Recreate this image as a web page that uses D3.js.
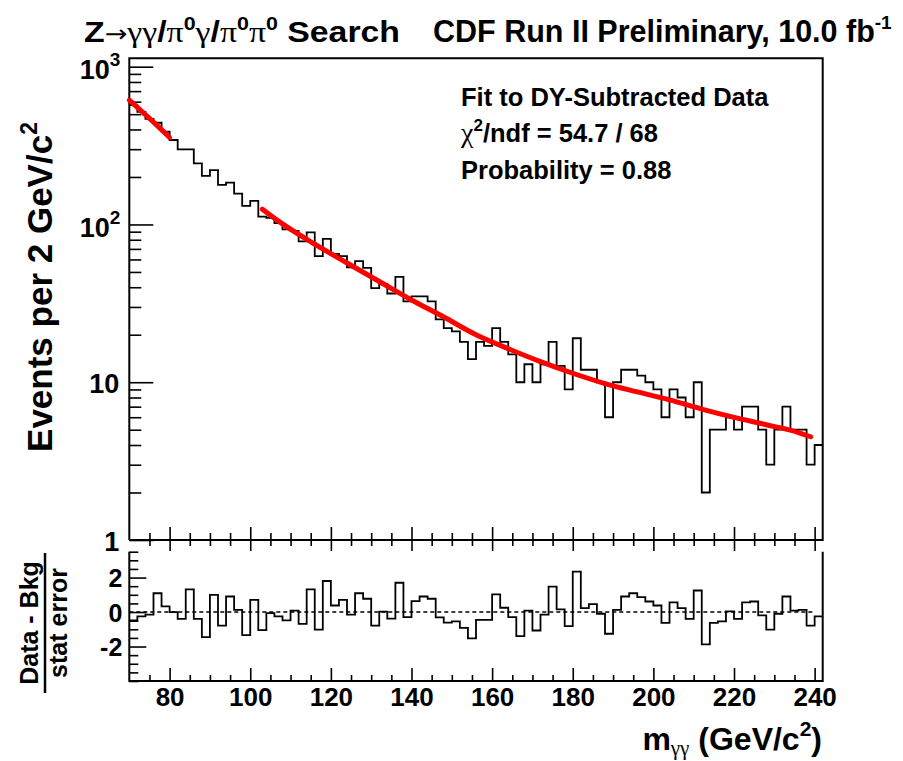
<!DOCTYPE html>
<html>
<head>
<meta charset="utf-8">
<script src="https://cdn.jsdelivr.net/npm/d3@7"></script>
<style>
  body { margin: 0; background: #fff; }
  svg text { font-family: "Liberation Sans", Arial, Helvetica, sans-serif; font-weight: bold; fill: #000; }
  .greek { font-family: "Liberation Serif", "Times New Roman", serif; font-weight: normal; }
  .arrow { font-family: "DejaVu Sans", sans-serif; font-weight: normal; }
</style>
</head>
<body>
<svg id="chart" width="903" height="761"></svg>
<script>
// Diphoton mass spectrum, 2 GeV bins from 70 to 242 GeV/c^2
const binLow = 70;
const binWidth = 2;
const events = [
  570, 517, 467, 441, 387, 343, 299, 299, 244, 203,
  221, 178, 184, 157, 131, 141, 112, 110, 102, 93,
  91, 78, 89, 63, 81, 65, 63, 53.5, 58.5, 53,
  39.5, 42, 36.5, 46.5, 32.5, 35, 35, 32.5, 25, 22,
  21, 18, 14, 18, 17, 22, 18, 15, 10, 13,
  10, 13, 18, 12.7, 9, 19, 12, 12, 10, 6,
  10, 12, 12, 11, 10, 9, 6, 9, 8, 6,
  10, 2, 5, 5, 6, 5, 7, 7, 5, 3,
  5, 7, 5, 5, 3, 4
];
// (data - background) / statistical error, same bins
const pulls = [
  -0.48, -0.25, -0.15, 1.09, 0.33, 0.0, -0.40, 1.32, -0.40, -1.46,
  1.00, -0.79, 0.90, 0.13, -1.34, 0.71, -1.05, -0.06, -0.25, -0.48,
  0.08, -0.69, 1.32, -1.02, 1.80, 0.38, 0.71, -0.15, 1.09, 0.77,
  -0.79, 0.02, -0.38, 1.70, -0.29, 0.63, 0.90, 0.77, -0.31, -0.61,
  -0.54, -0.92, -1.53, -0.46, -0.46, 1.03, 0.25, -0.29, -1.40, 0.08,
  -1.07, -0.15, 1.48, 0.15, -0.82, 2.34, 0.23, 0.46, -0.10, -1.26,
  0.13, 0.90, 1.09, 0.86, 0.61, 0.38, -0.63, 0.56, 0.23, -0.40,
  1.25, -1.88, -0.63, -0.54, 0.04, -0.40, 0.56, 0.61, -0.19, -1.02,
  -0.10, 0.90, 0.08, 0.13, -0.79, -0.25
];
// Background fit, drawn in the two fitted mass windows
const fitMassLow = [70, 75, 80];
const fitValueLow = [614, 470, 356];
const fitMassHigh = [103, 107, 116, 124, 132, 140, 148, 156, 164, 172, 180, 188, 196, 204, 212, 220, 228, 236, 239];
const fitValueHigh = [125, 105, 75, 57, 43.5, 33.2, 25.9, 20.0, 16.3, 13.5, 11.4, 9.8, 8.68, 7.73, 6.76, 5.99, 5.38, 4.8, 4.51];

const massTicks = [80, 100, 120, 140, 160, 180, 200, 220, 240];
const countTicks = [1, 10, 100, 1000];
const pullTicks = [-2, 0, 2];

// ---- geometry ----
const L = 129.3, R = 822.7;
const top1 = 58.3, bot1 = 540;
const top2 = 551.7, bot2 = 681;

const svg = d3.select("#chart");

const x = d3.scaleLinear().domain([70, 242]).range([L, R]);
const y = d3.scaleLog().domain([1, 1130]).range([bot1, top1]);
const yp = d3.scaleLinear().domain([-4, 3.5]).range([bot2, top2]);

const massMinor = x.ticks(35).filter(v => massTicks.indexOf(v) < 0 && v > 70);

function styleAxis(g) {
  g.attr("font-family", null).attr("font-size", null);
  g.selectAll(".tick line").attr("stroke", "#000").attr("stroke-width", 1.6);
  g.select(".domain").remove();
}

// ---- upper pad: counts (log) ----
const yMinor = y.ticks().filter(v => countTicks.indexOf(v) < 0);
svg.append("g").attr("transform", `translate(${L},0)`)
  .call(d3.axisLeft(y).tickValues(yMinor).tickSize(-12).tickFormat(""))
  .call(styleAxis);
const yMajor = svg.append("g").attr("transform", `translate(${L},0)`)
  .call(d3.axisLeft(y).tickValues(countTicks).tickSize(-24).tickPadding(10).tickFormat(""))
  .call(styleAxis);
yMajor.selectAll(".tick text").each(function(d) {
  const t = d3.select(this).attr("font-size", 27).attr("text-anchor", "end").attr("dy", null);
  if (d >= 100) {
    t.attr("x", -9).attr("y", 12);
    t.append("tspan").text("10");
    t.append("tspan").attr("font-size", 19).attr("dy", -13).text(Math.round(Math.log10(d)));
  } else {
    t.attr("x", -10).attr("y", 10).text(d);
  }
});

// x ticks on the boundary between pads
svg.append("g").attr("transform", `translate(0,${bot1})`)
  .call(d3.axisBottom(x).tickValues(massMinor).tickFormat(""))
  .call(styleAxis)
  .call(g => g.selectAll(".tick line").attr("y1", -7).attr("y2", 6));
svg.append("g").attr("transform", `translate(0,${bot1})`)
  .call(d3.axisBottom(x).tickValues(massTicks).tickFormat(""))
  .call(styleAxis)
  .call(g => g.selectAll(".tick line").attr("y1", -13).attr("y2", 11));

// frame of upper pad
svg.append("path")
  .attr("d", `M${L},${bot1}V${top1}H${R}V${bot1}H${L}`)
  .attr("fill", "none").attr("stroke", "#000").attr("stroke-width", 2);

// histogram outline
const stepLine = d3.line().curve(d3.curveStepAfter);
function histPoints(vals, ys) {
  const pts = vals.map((v, i) => [x(binLow + i * binWidth), ys(v)]);
  pts.push([x(binLow + vals.length * binWidth), ys(vals[vals.length - 1])]);
  return pts;
}
svg.append("path")
  .attr("d", stepLine(histPoints(events, y)))
  .attr("fill", "none").attr("stroke", "#000").attr("stroke-width", 1.8);

// fit curves
const fitLine = d3.line().x(d => x(d[0])).y(d => y(d[1])).curve(d3.curveMonotoneX);
[[fitMassLow, fitValueLow], [fitMassHigh, fitValueHigh]].forEach(([m, v]) => {
  svg.append("path")
    .attr("d", fitLine(m.map((mm, i) => [mm, v[i]])))
    .attr("fill", "none").attr("stroke", "#ff0000").attr("stroke-width", 5)
    .attr("stroke-linecap", "round");
});

// fit summary text
const info = svg.append("g").attr("font-size", 25.5);
info.append("text").attr("x", 461).attr("y", 106).text("Fit to DY-Subtracted Data");
const chi = info.append("text").attr("x", 461).attr("y", 142);
chi.append("tspan").attr("class", "greek").attr("font-size", 28).text("χ");
chi.append("tspan").attr("font-size", 17).attr("dy", -11).text("2");
chi.append("tspan").attr("dy", 11).text("/ndf = 54.7 / 68");
info.append("text").attr("x", 461).attr("y", 179).text("Probability = 0.88");

// ---- lower pad: pulls ----
svg.append("g").attr("transform", `translate(${L},0)`)
  .call(d3.axisLeft(yp).tickValues(yp.ticks(15).filter(v => pullTicks.indexOf(v) < 0)).tickSize(-9).tickFormat(""))
  .call(styleAxis);
svg.append("g").attr("transform", `translate(${L},0)`)
  .call(d3.axisLeft(yp).tickValues(pullTicks).tickSize(-17).tickPadding(7).tickFormat(d => d))
  .call(styleAxis)
  .call(g => g.selectAll(".tick text").attr("font-size", 25).attr("dy", "0.36em"));

svg.append("g").attr("transform", `translate(0,${bot2})`)
  .call(d3.axisBottom(x).tickValues(massMinor).tickSize(-6).tickFormat(""))
  .call(styleAxis);
svg.append("g").attr("transform", `translate(0,${bot2})`)
  .call(d3.axisBottom(x).tickValues(massTicks).tickSize(-13).tickPadding(7).tickFormat(d => d))
  .call(styleAxis)
  .call(g => g.selectAll(".tick text").attr("font-size", 26));

svg.append("path")
  .attr("d", `M${L},${top2}V${bot2}H${R}V${top2}`)
  .attr("fill", "none").attr("stroke", "#000").attr("stroke-width", 2);

// zero line
svg.append("line")
  .attr("x1", x(70)).attr("x2", x(240)).attr("y1", yp(0)).attr("y2", yp(0))
  .attr("stroke", "#000").attr("stroke-width", 1.5).attr("stroke-dasharray", "4,3");

svg.append("path")
  .attr("d", stepLine(histPoints(pulls, yp)))
  .attr("fill", "none").attr("stroke", "#000").attr("stroke-width", 1.8);

// ---- titles ----
const t1 = svg.append("text").attr("x", 84).attr("y", 42).attr("font-size", 30)
  .attr("textLength", 316).attr("lengthAdjust", "spacingAndGlyphs");
t1.append("tspan").text("Z");
t1.append("tspan").attr("class", "arrow").attr("font-size", 24).text("→");
t1.append("tspan").attr("class", "greek").text("γγ");
t1.append("tspan").text("/");
t1.append("tspan").attr("class", "greek").text("π");
t1.append("tspan").attr("font-size", 19).attr("dy", -12).text("0");
t1.append("tspan").attr("class", "greek").attr("dy", 12).text("γ");
t1.append("tspan").text("/");
t1.append("tspan").attr("class", "greek").text("π");
t1.append("tspan").attr("font-size", 19).attr("dy", -12).text("0");
t1.append("tspan").attr("class", "greek").attr("dy", 12).text("π");
t1.append("tspan").attr("font-size", 19).attr("dy", -12).text("0");
t1.append("tspan").attr("dy", 12).text(" Search");

const t2 = svg.append("text").attr("x", 433).attr("y", 42).attr("font-size", 30.5);
t2.append("tspan").text("CDF Run II Preliminary, 10.0 fb");
t2.append("tspan").attr("font-size", 19).attr("dy", -13).text("-1");

// y title
const yt = svg.append("text").attr("transform", "translate(52,287) rotate(-90)")
  .attr("text-anchor", "middle").attr("font-size", 35);
yt.append("tspan").text("Events per 2 GeV/c");
yt.append("tspan").attr("font-size", 23).attr("dy", -15).text("2");

// pull title as a fraction
const pt = svg.append("g").attr("transform", "translate(0,623) rotate(-90)");
pt.append("text").attr("x", 0).attr("y", 38).attr("text-anchor", "middle").attr("font-size", 25).text("Data - Bkg");
pt.append("line").attr("x1", -70).attr("x2", 70).attr("y1", 45).attr("y2", 45).attr("stroke", "#000").attr("stroke-width", 2.5);
pt.append("text").attr("x", 0).attr("y", 67).attr("text-anchor", "middle").attr("font-size", 25).text("stat error");

// x title
const xt = svg.append("text").attr("x", 822).attr("y", 750).attr("text-anchor", "end").attr("font-size", 32);
xt.append("tspan").text("m");
xt.append("tspan").attr("class", "greek").attr("font-size", 21).attr("dy", 5).text("γγ");
xt.append("tspan").attr("dy", -5).text(" (GeV/c");
xt.append("tspan").attr("font-size", 21).attr("dy", -14).text("2");
xt.append("tspan").attr("dy", 14).text(")");
</script>
</body>
</html>
